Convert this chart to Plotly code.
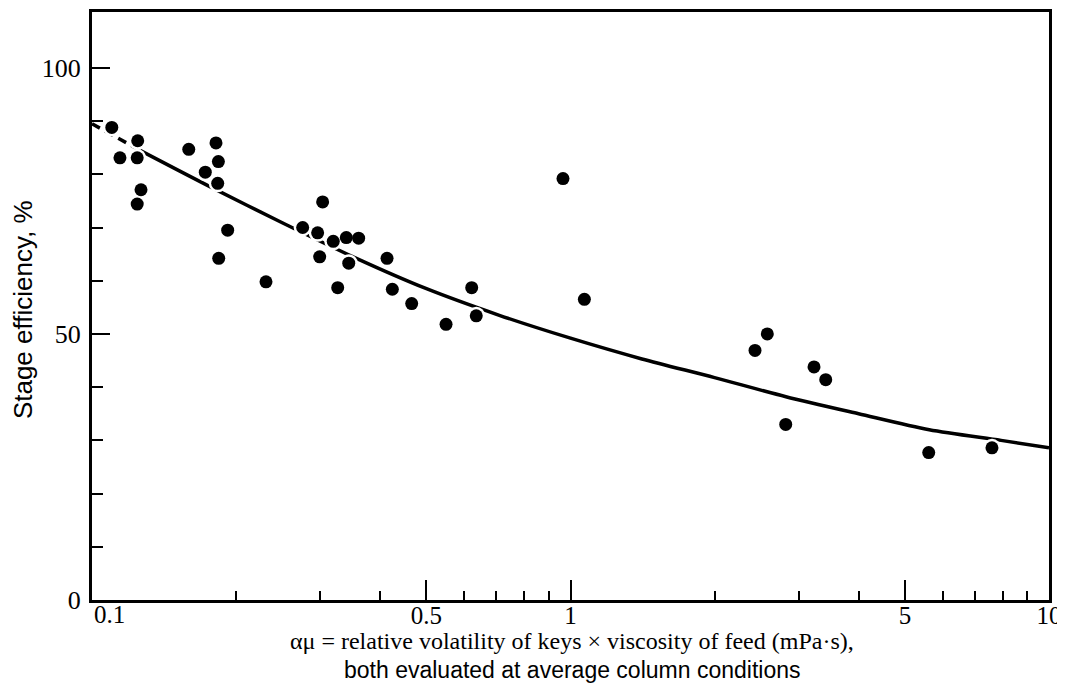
import plotly.graph_objects as go

# Measured stage efficiencies (x = alpha*mu, y = efficiency %)
eff_x = [0.110, 0.1246, 0.1144, 0.1243, 0.1266, 0.1243, 0.1593, 0.1816, 0.1837, 0.1725,
         0.1831, 0.1921, 0.1840, 0.2310, 0.3034, 0.2756, 0.2962, 0.3193, 0.3400, 0.3608,
         0.2991, 0.3440, 0.3262, 0.4136, 0.4243, 0.4657, 0.5494, 0.6216, 0.6354, 0.9645,
         1.069, 2.578, 2.430, 3.228, 3.415, 2.817, 5.606, 7.60]
eff_y = [88.8, 86.3, 83.1, 83.1, 77.1, 74.4, 84.7, 85.9, 82.4, 80.4,
         78.3, 69.5, 64.2, 59.8, 74.8, 70.0, 69.0, 67.4, 68.1, 68.0,
         64.5, 63.3, 58.7, 64.2, 58.4, 55.7, 51.8, 58.7, 53.4, 79.2,
         56.5, 50.0, 46.9, 43.8, 41.4, 33.0, 27.7, 28.6]

# Correlation curve
curve_x = [0.1, 0.126, 0.178, 0.251, 0.355, 0.5, 0.71, 1.0, 1.41, 2.0, 2.82, 4.0, 5.62, 7.94, 10.0]
curve_y = [89.5, 84.5, 77.5, 70.8, 64.3, 58.5, 53.5, 49.2, 45.3, 41.8, 38.2, 35.0, 32.0, 30.0, 28.6]

x_tick_vals = [0.1, 0.5, 1, 5, 10]
x_tick_text = ["", "0.5", "1", "5", "10"]   # "0.1" is drawn left-aligned at the axis corner
x_first_label = "0.1"
x_minor_vals = [0.2, 0.3, 0.4, 0.6, 0.7, 0.8, 0.9, 2, 3, 4, 6, 7, 8, 9]
y_tick_vals = [0, 50, 100]
y_tick_text = ["0", "50", "100"]
y_minor_vals = [10, 20, 30, 40, 60, 70, 80, 90]

x_title_1 = "αμ = relative volatility of keys × viscosity of feed (mPa·s),"
x_title_2 = "both evaluated at average column conditions"
y_title = "Stage efficiency, %"

serif = "Liberation Serif"
sans = "Liberation Sans"

fig = go.Figure()
fig.add_trace(go.Scatter(x=curve_x[:2], y=curve_y[:2], mode="lines",
                         line=dict(color="black", width=3.5, dash="9px,6px"), hoverinfo="skip"))
fig.add_trace(go.Scatter(x=curve_x[1:], y=curve_y[1:], mode="lines",
                         line=dict(color="black", width=3.5, shape="spline", smoothing=0.8), hoverinfo="skip"))
fig.add_trace(go.Scatter(x=eff_x, y=eff_y, mode="markers",
                         marker=dict(color="white", size=18), hoverinfo="skip"))
fig.add_trace(go.Scatter(x=eff_x, y=eff_y, mode="markers",
                         marker=dict(color="black", size=13)))

# The page has an 8px body margin, so the figure is sized to fit the window.
fig.update_layout(
    width=1057, height=676,
    margin=dict(l=84, r=16, t=4, b=84),
    paper_bgcolor="white", plot_bgcolor="white",
    showlegend=False,
    font=dict(family=serif, color="black"),
    annotations=[
        dict(text=x_first_label, xref="paper", yref="paper", x=0, y=0, yshift=-14,
             xanchor="left", yanchor="middle", showarrow=False,
             font=dict(family=serif, size=25, color="black")),
        dict(text=x_title_1, xref="paper", yref="paper", x=0.502, y=0, yshift=-41,
             xanchor="center", yanchor="middle", showarrow=False,
             font=dict(family=serif, size=24, color="black")),
        dict(text=x_title_2, xref="paper", yref="paper", x=0.502, y=0, yshift=-70,
             xanchor="center", yanchor="middle", showarrow=False,
             font=dict(family=sans, size=23, color="black")),
        dict(text=y_title, xref="paper", yref="paper", x=0, xshift=-69, y=0.493,
             xanchor="center", yanchor="middle", textangle=-90, showarrow=False,
             font=dict(family=sans, size=26, color="black")),
    ],
)
fig.update_xaxes(
    type="log", range=[-1, 1], automargin=False,
    tickvals=x_tick_vals, ticktext=x_tick_text,
    ticks="inside", ticklen=20, tickwidth=2, tickcolor="black",
    showline=True, linewidth=3, linecolor="black", mirror=True,
    showgrid=False, zeroline=False,
    tickfont=dict(size=25, family=serif),
    ticklabelstandoff=-9,
    minor=dict(tickvals=x_minor_vals, ticks="inside", ticklen=9, tickwidth=2,
               tickcolor="black", showgrid=False),
)
fig.update_yaxes(
    range=[0, 110.5], automargin=False,
    tickvals=y_tick_vals, ticktext=y_tick_text,
    ticks="inside", ticklen=18, tickwidth=2, tickcolor="black",
    showline=True, linewidth=3, linecolor="black", mirror=True,
    showgrid=False, zeroline=False,
    tickfont=dict(size=26, family=serif),
    ticklabelstandoff=3,
    minor=dict(tickvals=y_minor_vals, ticks="inside", ticklen=11, tickwidth=2,
               tickcolor="black", showgrid=False),
)

fig.write_html("out.html")
